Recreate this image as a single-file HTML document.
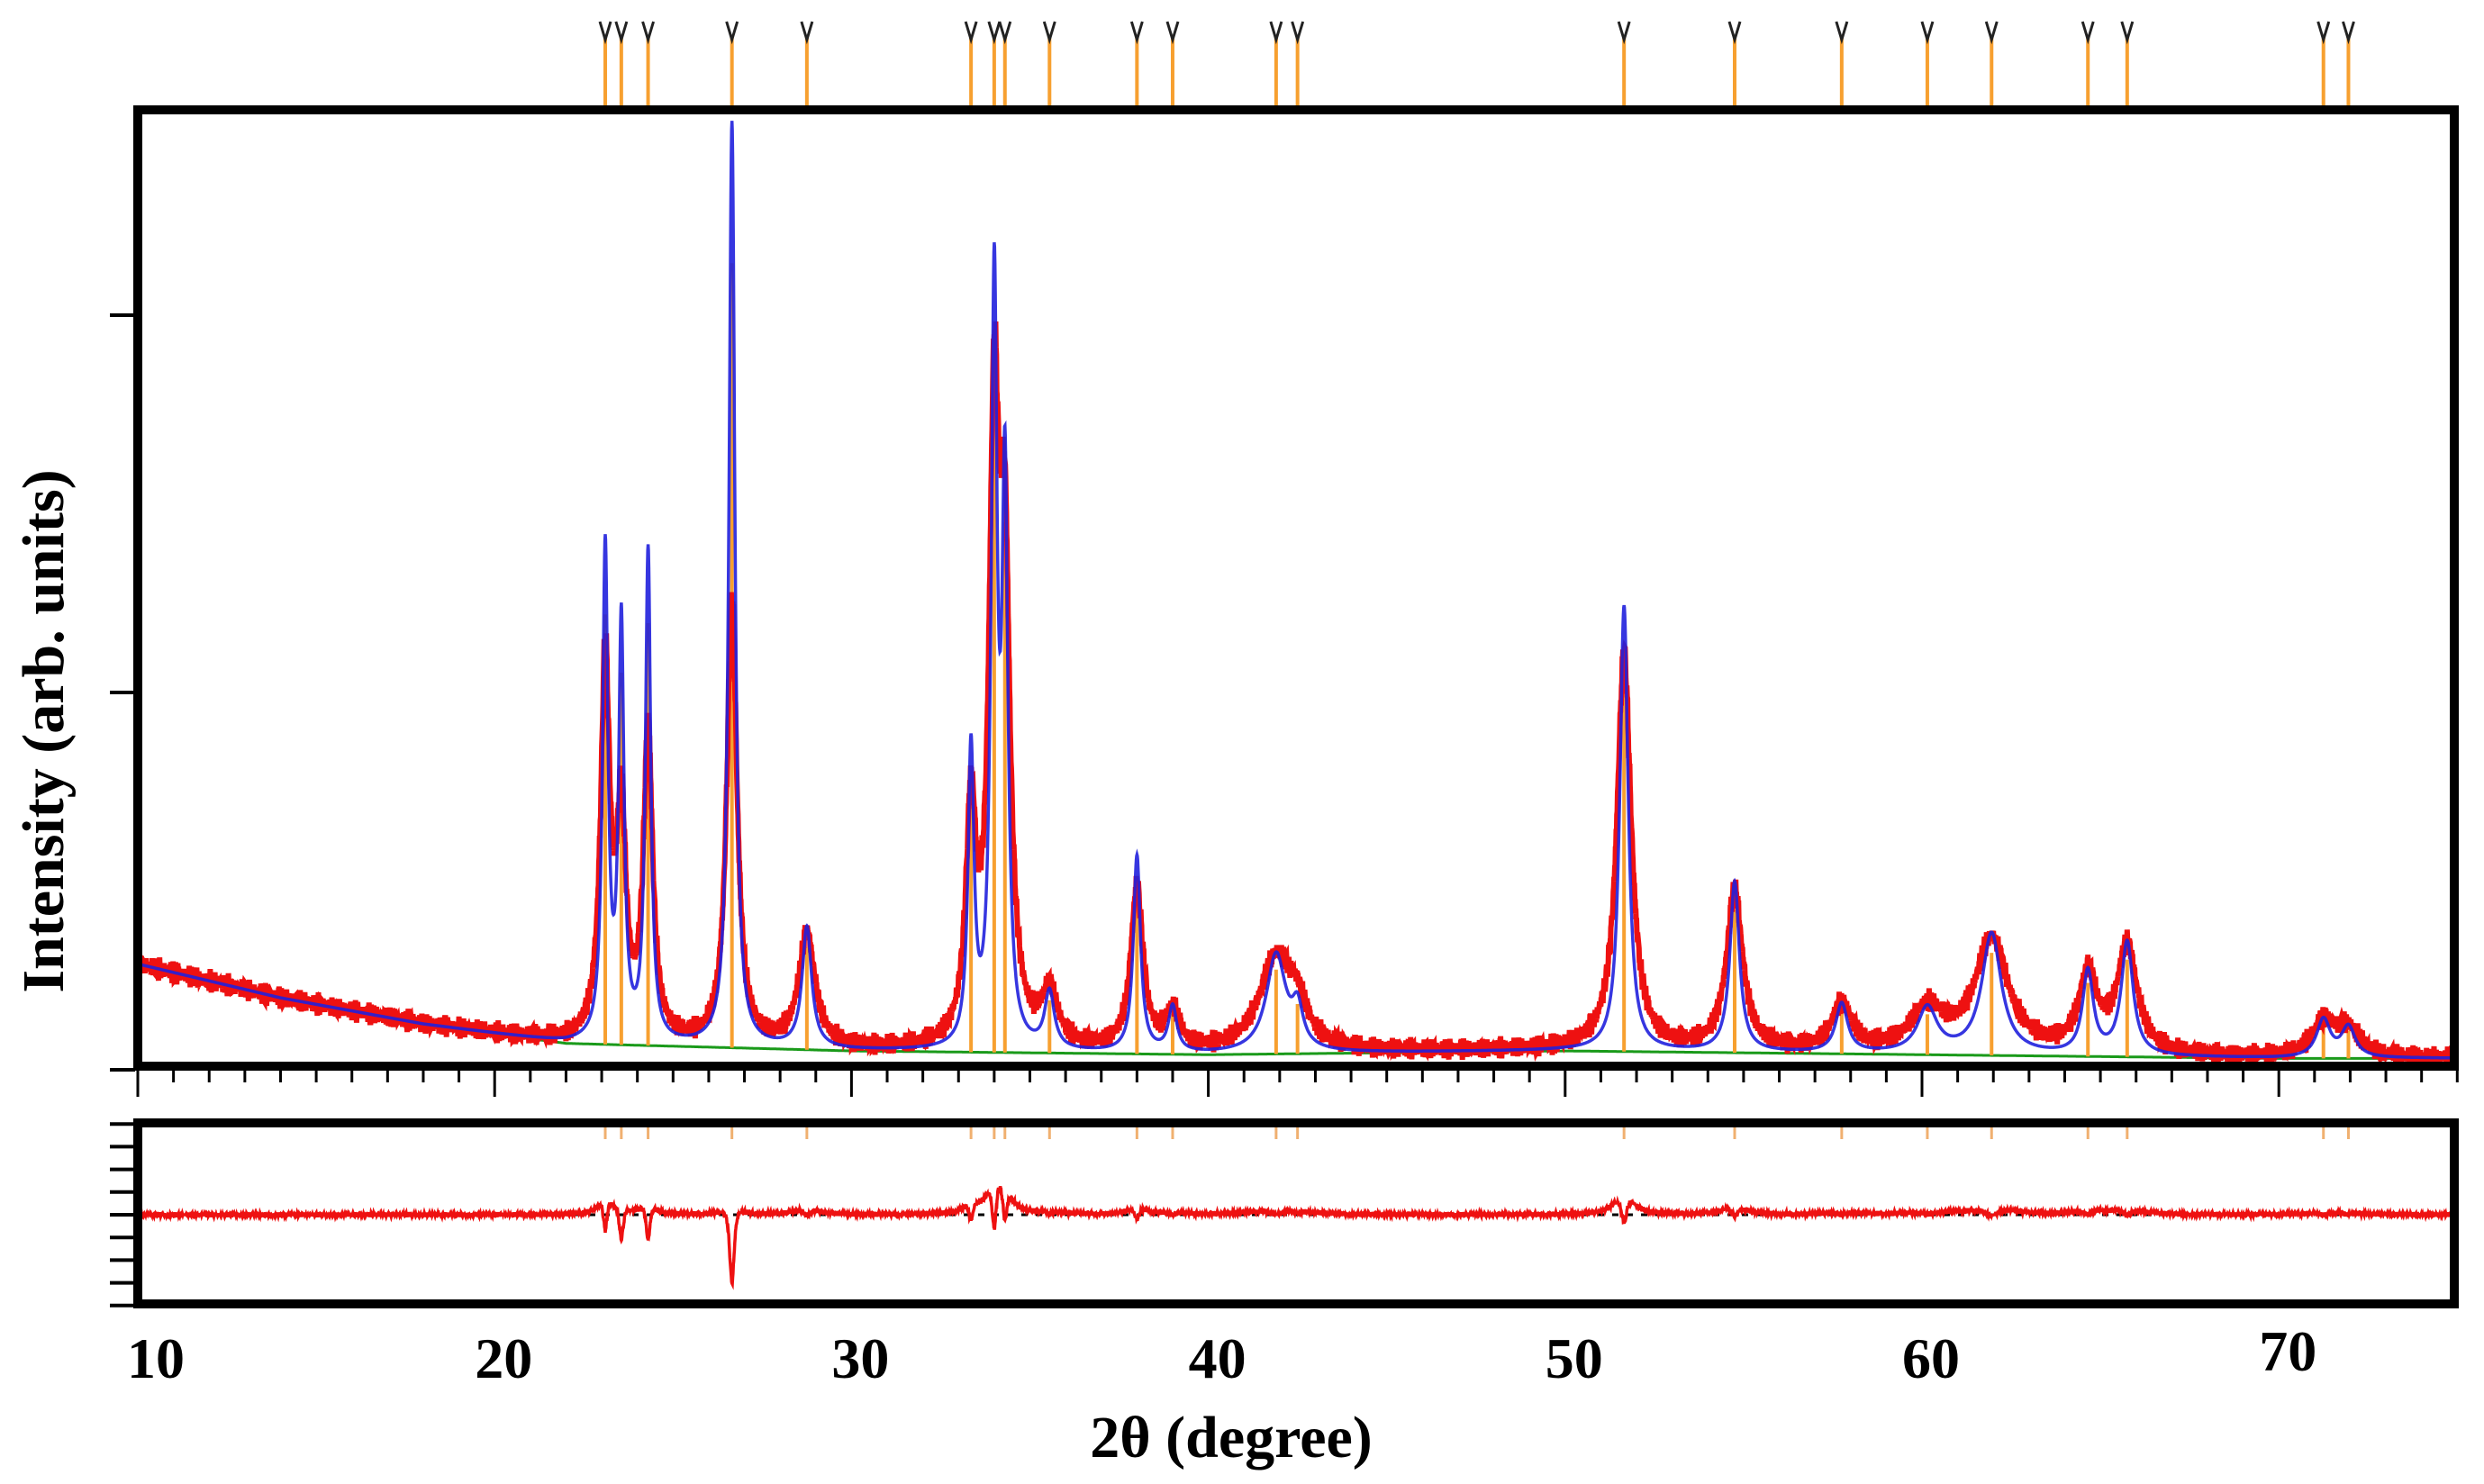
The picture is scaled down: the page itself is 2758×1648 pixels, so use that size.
<!DOCTYPE html>
<html><head><meta charset="utf-8"><style>
html,body{margin:0;padding:0;background:#fff;width:2758px;height:1648px;overflow:hidden}
svg{display:block}
text{font-family:"Liberation Serif",serif;font-weight:bold;fill:#000}
</style></head><body>
<svg id="chart" width="2758" height="1648" viewBox="0 0 2758 1648" xmlns="http://www.w3.org/2000/svg">
<g id="plot"></g>
<rect x="153" y="122" width="2572" height="1062" fill="none" stroke="#000" stroke-width="10"/>
<rect x="153" y="1247" width="2572" height="201" fill="none" stroke="#000" stroke-width="10"/>
<g id="axes"></g>
<text x="0" y="0" font-size="66" text-anchor="middle" transform="translate(70,812) rotate(-90)">Intensity (arb. units)</text>
<text x="1367" y="1618" font-size="66" text-anchor="middle">2θ (degree)</text>
</svg>
<script>
const peakPos   = [23.1,23.55,24.3,26.65,28.75,33.35,34.0,34.3,35.55,38.0,39.0,41.9,42.5,51.65,54.75,57.75,60.15,61.95,64.65,65.75,71.25,71.95];
const calcHeights=[1.30,1.10,1.30,2.45,0.32,0.78,1.98,1.45,0.15,0.52,0.12,0.26,0.10,1.18,0.45,0.13,0.12,0.32,0.22,0.30,0.10,0.08];
const obsHeights = [1.00,0.58,0.82,1.18,0.30,0.60,1.58,1.15,0.14,0.43,0.10,0.25,0.08,1.05,0.42,0.12,0.11,0.30,0.20,0.28,0.09,0.07];
const peakWidths = [0.09,0.09,0.09,0.10,0.16,0.10,0.10,0.10,0.16,0.12,0.14,0.33,0.18,0.14,0.16,0.20,0.33,0.33,0.18,0.20,0.23,0.23];
const bgX = [10,14,18,22,26,30,40,50,60,70,75];
const bgY = [0.28,0.19,0.12,0.07,0.06,0.05,0.04,0.05,0.04,0.03,0.03];
const xTickLabels = [10,20,30,40,50,60,70];

const X0=153, XS=39.62, YB=1188, YS=419, RZ=1349, RS=66;
const sx = d => X0 + (d-10)*XS;
const sy = v => YB - v*YS;
const ry = v => RZ - v*RS;
const NS="http://www.w3.org/2000/svg";
const plot=document.getElementById('plot'), axes=document.getElementById('axes');
function mk(tag, attrs, parent){const e=document.createElementNS(NS,tag);for(const k in attrs)e.setAttribute(k,attrs[k]);parent.appendChild(e);return e;}
function bg(x){for(let i=0;i<bgX.length-1;i++){if(x<=bgX[i+1]){const t=(x-bgX[i])/(bgX[i+1]-bgX[i]);return bgY[i]+t*(bgY[i+1]-bgY[i]);}}return bgY[bgY.length-1];}
function prof(x,h,w,i){const d=(x-peakPos[i])/w;return h/(1+d*d);}
function calc(x){let s=bg(x);for(let i=0;i<peakPos.length;i++)s+=prof(x,calcHeights[i],peakWidths[i],i);return s;}
function obs(x){let s=bg(x);for(let i=0;i<peakPos.length;i++)s+=prof(x,obsHeights[i],peakWidths[i]*1.7,i);return s;}
function jit(x){return 0.012*Math.sin(x*97.3)+0.01*Math.sin(x*331.7+1.3)+0.008*Math.sin(x*713.1);}

let pc="",po="",pr="",pb="";
for(let x=10.05;x<=74.95;x+=0.01){
  const c=calc(x), o=obs(x)+jit(x)*(1+obs(x)*0.5);
  pc+=(pc?"L":"M")+sx(x).toFixed(1)+","+Math.max(sy(c),127).toFixed(1);
  po+=(po?"L":"M")+sx(x).toFixed(1)+","+sy(o).toFixed(1);
  pr+=(pr?"L":"M")+sx(x).toFixed(1)+","+ry((o-c)*0.9+jit(x)*0.5).toFixed(1);
  pb+=(pb?"L":"M")+sx(x).toFixed(1)+","+sy(bg(x)).toFixed(1);
}
let el;
el=mk('path',{d:pb,fill:'none',stroke:'#1a9a1a','stroke-width':3},plot);


for(let i=0;i<peakPos.length;i++){
  el=mk('line',{x1:sx(peakPos[i]),x2:sx(peakPos[i]),y1:sy(bg(peakPos[i])),y2:Math.max(sy(calc(peakPos[i])*0.85),127),stroke:'#f7a030','stroke-width':4},plot);
  
  
  el=mk('line',{x1:sx(peakPos[i]),x2:sx(peakPos[i]),y1:40,y2:120,stroke:'#f7a030','stroke-width':4},plot);
  
  
  el=mk('path',{d:`M${sx(peakPos[i])-6},24L${sx(peakPos[i])},44L${sx(peakPos[i])+6},24`,fill:'none',stroke:'#222','stroke-width':3},plot);
  
  
  el=mk('line',{x1:sx(peakPos[i]),x2:sx(peakPos[i]),y1:1252,y2:1265,stroke:'#f0b070','stroke-width':3},plot);
  
  
}
el=mk('path',{d:po,fill:'none',stroke:'#ee1111','stroke-width':6},plot);


el=mk('path',{d:pc,fill:'none',stroke:'#2020dd','stroke-width':3.5,'stroke-opacity':0.9},plot);


el=mk('line',{x1:158,x2:2720,y1:RZ,y2:RZ,stroke:'#000','stroke-width':3,'stroke-dasharray':'7,9'},plot);


el=mk('path',{d:pr,fill:'none',stroke:'#ee1111','stroke-width':3.5},plot);



for(let d=10;d<=75;d++){
  const major=d%10===0;
  el=mk('line',{x1:sx(d),x2:sx(d),y1:1188,y2:major?1218:1202,stroke:'#000','stroke-width':3},axes);
  
  
}
xTickLabels.forEach(v=>{
  el=mk('text',{x:sx(v)+(v===10?20:10),y:v===70?1522:1530,'font-size':64,'text-anchor':'middle'},axes);
  el.textContent=v;
  
  
});
[0,1,2].forEach(v=>{
  el=mk('line',{x1:122,x2:150,y1:sy(v),y2:sy(v),stroke:'#000','stroke-width':4},axes);
  
  
});
for(let k=-4;k<=4;k++){
  el=mk('line',{x1:122,x2:150,y1:RZ+k*25.2,y2:RZ+k*25.2,stroke:'#000','stroke-width':4},axes);
  
  
}
</script>
</body></html>
